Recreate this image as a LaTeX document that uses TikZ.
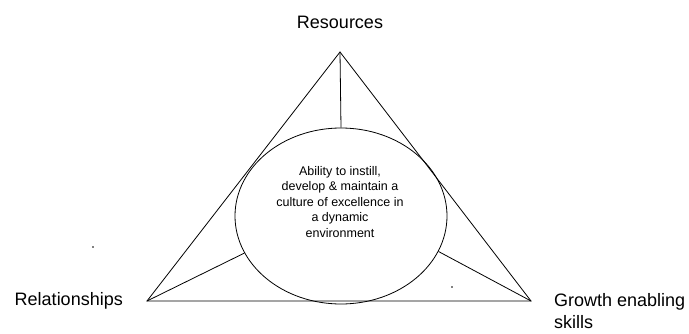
\documentclass[tikz,border=0pt]{standalone}
\usepackage{fontspec}
\setmainfont{Liberation Sans}
\usetikzlibrary{shapes.geometric}
\begin{document}
\begin{tikzpicture}[x=1pt,y=1pt,
  edge/.style={draw=black,line width=0.8pt},
  lbl/.style={font=\fontsize{18}{22}\selectfont,inner sep=0pt},
  ctext/.style={font=\fontsize{12.5}{15.5}\selectfont,align=center,inner sep=0pt}]
\useasboundingbox (0,0) rectangle (689,333);
\coordinate (A) at (340,281);
\coordinate (L) at (147,32);
\coordinate (R) at (531,32);
\node[ellipse,draw,line width=0.8pt,minimum width=212pt,minimum height=176pt,inner sep=0pt] (c) at (341,117) {};
\node[ctext] (t) at (340,131) {Ability to instill,\\develop \& maintain a\\culture of excellence in\\a dynamic\\environment};
\draw[edge,line join=miter] (A) -- (L) -- (R) -- cycle;
\draw[edge] (A) -- (c.north);
\draw[edge] (L) -- (c.201);
\draw[edge] (R) -- (c.-20);
\node[lbl] (res) at (340,311) {Resources};
\node[lbl,anchor=east] (rel) at (123,32) {Relationships};
\node[lbl,anchor=west,align=left] (gro) at (554,22) {Growth enabling\\skills};
\fill (93,86) circle (0.8pt);
\fill (452,46) circle (0.8pt);
\end{tikzpicture}
\end{document}
